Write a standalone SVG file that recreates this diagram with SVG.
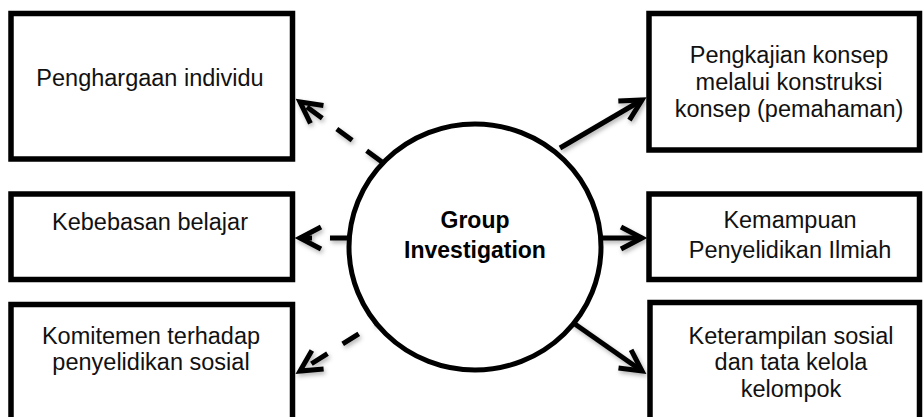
<svg xmlns="http://www.w3.org/2000/svg" width="923" height="417" viewBox="0 0 923 417">
  <style>
    .box { fill: #ffffff; stroke: #000000; stroke-width: 5.5; }
    .lbl { font-family: "Liberation Sans", Arial, sans-serif; font-size: 23.5px; fill: #111111; text-anchor: middle; }
    .ctr { font-family: "Liberation Sans", Arial, sans-serif; font-size: 23px; font-weight: bold; fill: #000000; text-anchor: middle; }
    .conn { fill: none; stroke: #000000; stroke-width: 5; }
    .dash { stroke-dasharray: 19 18; }
  </style>
  <defs>
    <marker id="head" markerUnits="userSpaceOnUse" markerWidth="40" markerHeight="40" refX="0" refY="0" orient="auto" overflow="visible">
      <path d="M-21,-11 L0,0 L-21,11" fill="none" stroke="#000000" stroke-width="5" stroke-linejoin="miter" stroke-dasharray="none"/>
    </marker>
    <filter id="sh" x="-20%" y="-20%" width="140%" height="140%">
      <feDropShadow dx="1.5" dy="2.5" stdDeviation="2" flood-color="#000000" flood-opacity="0.3"/>
    </filter>
  </defs>

  <g id="node-penghargaan">
    <rect class="box" x="11" y="13.5" width="281.5" height="145.5"/>
    <text class="lbl" x="150" y="86">Penghargaan individu</text>
  </g>
  <g id="node-kebebasan">
    <rect class="box" x="11" y="194" width="281.5" height="85.5"/>
    <text class="lbl" x="150" y="230">Kebebasan belajar</text>
  </g>
  <g id="node-komitemen">
    <rect class="box" x="11" y="304.5" width="281.5" height="130"/>
    <text class="lbl" x="151" y="344">Komitemen terhadap</text>
    <text class="lbl" x="151" y="370">penyelidikan sosial</text>
  </g>
  <g id="node-pengkajian">
    <rect class="box" x="649" y="13.5" width="270.5" height="136.5"/>
    <text class="lbl" x="789" y="63">Pengkajian konsep</text>
    <text class="lbl" x="789" y="90">melalui konstruksi</text>
    <text class="lbl" x="789" y="117">konsep (pemahaman)</text>
  </g>
  <g id="node-kemampuan">
    <rect class="box" x="649" y="194" width="270.5" height="85.5"/>
    <text class="lbl" x="790" y="228">Kemampuan</text>
    <text class="lbl" x="790" y="258">Penyelidikan Ilmiah</text>
  </g>
  <g id="node-keterampilan">
    <rect class="box" x="650" y="302.5" width="269.5" height="130"/>
    <text class="lbl" x="791" y="344">Keterampilan sosial</text>
    <text class="lbl" x="791" y="370">dan tata kelola</text>
    <text class="lbl" x="791" y="397">kelompok</text>
  </g>

  <g id="connectors" filter="url(#sh)">
    <path class="conn dash" d="M382,162 L300,102" marker-end="url(#head)"/>
    <path class="conn dash" d="M349,238 L300,238" marker-end="url(#head)"/>
    <path class="conn dash" d="M390,314 L300,371" marker-end="url(#head)"/>
    <path class="conn" d="M560,148 L642,100" marker-end="url(#head)"/>
    <path class="conn" d="M600,238 L642,238" marker-end="url(#head)"/>
    <path class="conn" d="M562,315 L642,371" marker-end="url(#head)"/>
  </g>

  <g id="node-group-investigation">
    <ellipse cx="475" cy="247" rx="126" ry="123" fill="#ffffff" stroke="#000000" stroke-width="5"/>
    <text class="ctr" x="475" y="228">Group</text>
    <text class="ctr" x="475" y="258">Investigation</text>
  </g>
</svg>
